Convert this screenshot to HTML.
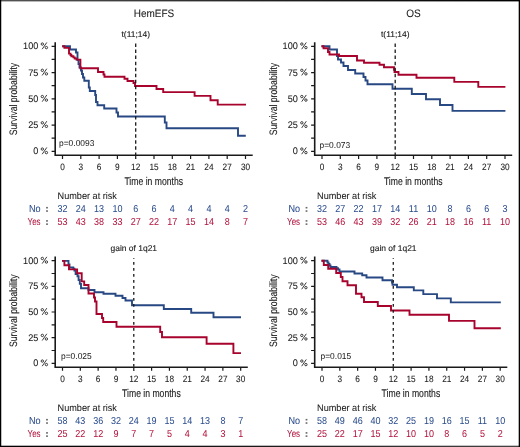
<!DOCTYPE html>
<html><head><meta charset="utf-8"><title>KM curves</title>
<style>
html,body{margin:0;padding:0;background:#fff;}
body{width:520px;height:447px;overflow:hidden;}
svg{display:block;will-change:transform;text-rendering:geometricPrecision;font-family:"Liberation Sans",sans-serif;}
</style></head>
<body>
<svg width="520" height="447" viewBox="0 0 520 447">
<rect x="0" y="0" width="520" height="447" fill="#fff"/>
<path d="M55.2 42.2 V155.3 H252.7" fill="none" stroke="#1a1a1a" stroke-width="1.6"/>
<path d="M51.6 46.3 H55.2 M51.6 59.42 H55.2 M51.6 72.55 H55.2 M51.6 85.68 H55.2 M51.6 98.8 H55.2 M51.6 111.93 H55.2 M51.6 125.05 H55.2 M51.6 138.18 H55.2 M51.6 151.3 H55.2 M62.5 155.3 V158.9 M80.8 155.3 V158.9 M99.1 155.3 V158.9 M117.4 155.3 V158.9 M135.7 155.3 V158.9 M154 155.3 V158.9 M172.3 155.3 V158.9 M190.6 155.3 V158.9 M208.9 155.3 V158.9 M227.2 155.3 V158.9 M245.5 155.3 V158.9" fill="none" stroke="#1a1a1a" stroke-width="1.2"/>
<text transform="translate(38.3 49.3) scale(0.96 1)" font-size="9.5" fill="#1a1a1a" stroke="#1a1a1a" stroke-width="0.08" text-anchor="end">100</text>
<text transform="translate(38.3 75.55) scale(0.96 1)" font-size="9.5" fill="#1a1a1a" stroke="#1a1a1a" stroke-width="0.08" text-anchor="end">75</text>
<text transform="translate(38.3 101.8) scale(0.96 1)" font-size="9.5" fill="#1a1a1a" stroke="#1a1a1a" stroke-width="0.08" text-anchor="end">50</text>
<text transform="translate(38.3 128.05) scale(0.96 1)" font-size="9.5" fill="#1a1a1a" stroke="#1a1a1a" stroke-width="0.08" text-anchor="end">25</text>
<text transform="translate(38.3 154.3) scale(0.96 1)" font-size="9.5" fill="#1a1a1a" stroke="#1a1a1a" stroke-width="0.08" text-anchor="end">0</text>
<path d="M41.13 44.06 a1.2 1.2 0 1 0 2.4 0 a1.2 1.2 0 1 0 -2.4 0 M45.2 47.6 a1.2 1.2 0 1 0 2.4 0 a1.2 1.2 0 1 0 -2.4 0 M46.8 42.45 L42.2 49.18 M41.13 70.31 a1.2 1.2 0 1 0 2.4 0 a1.2 1.2 0 1 0 -2.4 0 M45.2 73.85 a1.2 1.2 0 1 0 2.4 0 a1.2 1.2 0 1 0 -2.4 0 M46.8 68.7 L42.2 75.43 M41.13 96.56 a1.2 1.2 0 1 0 2.4 0 a1.2 1.2 0 1 0 -2.4 0 M45.2 100.1 a1.2 1.2 0 1 0 2.4 0 a1.2 1.2 0 1 0 -2.4 0 M46.8 94.95 L42.2 101.68 M41.13 122.81 a1.2 1.2 0 1 0 2.4 0 a1.2 1.2 0 1 0 -2.4 0 M45.2 126.35 a1.2 1.2 0 1 0 2.4 0 a1.2 1.2 0 1 0 -2.4 0 M46.8 121.2 L42.2 127.93 M41.13 149.06 a1.2 1.2 0 1 0 2.4 0 a1.2 1.2 0 1 0 -2.4 0 M45.2 152.6 a1.2 1.2 0 1 0 2.4 0 a1.2 1.2 0 1 0 -2.4 0 M46.8 147.45 L42.2 154.18" fill="none" stroke="#1a1a1a" stroke-width="0.85"/>
<text transform="translate(17.2 99.05) rotate(-90)" font-size="10.8" fill="#1a1a1a" stroke="#1a1a1a" stroke-width="0.1" text-anchor="middle" textLength="72.5" lengthAdjust="spacingAndGlyphs">Survival probability</text>
<text transform="translate(62.5 169.8) scale(0.9 1)" font-size="9.2" fill="#1a1a1a" stroke="#1a1a1a" stroke-width="0.08" text-anchor="middle">0</text>
<text transform="translate(80.8 169.8) scale(0.9 1)" font-size="9.2" fill="#1a1a1a" stroke="#1a1a1a" stroke-width="0.08" text-anchor="middle">3</text>
<text transform="translate(99.1 169.8) scale(0.9 1)" font-size="9.2" fill="#1a1a1a" stroke="#1a1a1a" stroke-width="0.08" text-anchor="middle">6</text>
<text transform="translate(117.4 169.8) scale(0.9 1)" font-size="9.2" fill="#1a1a1a" stroke="#1a1a1a" stroke-width="0.08" text-anchor="middle">9</text>
<text transform="translate(135.7 169.8) scale(0.9 1)" font-size="9.2" fill="#1a1a1a" stroke="#1a1a1a" stroke-width="0.08" text-anchor="middle">12</text>
<text transform="translate(154 169.8) scale(0.9 1)" font-size="9.2" fill="#1a1a1a" stroke="#1a1a1a" stroke-width="0.08" text-anchor="middle">15</text>
<text transform="translate(172.3 169.8) scale(0.9 1)" font-size="9.2" fill="#1a1a1a" stroke="#1a1a1a" stroke-width="0.08" text-anchor="middle">18</text>
<text transform="translate(190.6 169.8) scale(0.9 1)" font-size="9.2" fill="#1a1a1a" stroke="#1a1a1a" stroke-width="0.08" text-anchor="middle">21</text>
<text transform="translate(208.9 169.8) scale(0.9 1)" font-size="9.2" fill="#1a1a1a" stroke="#1a1a1a" stroke-width="0.08" text-anchor="middle">24</text>
<text transform="translate(227.2 169.8) scale(0.9 1)" font-size="9.2" fill="#1a1a1a" stroke="#1a1a1a" stroke-width="0.08" text-anchor="middle">27</text>
<text transform="translate(245.5 169.8) scale(0.9 1)" font-size="9.2" fill="#1a1a1a" stroke="#1a1a1a" stroke-width="0.08" text-anchor="middle">30</text>
<text transform="translate(153.7 184.9)" font-size="11.2" fill="#1a1a1a" stroke="#1a1a1a" stroke-width="0.12" text-anchor="middle" textLength="58.6" lengthAdjust="spacingAndGlyphs">Time in months</text>
<text transform="translate(154 16.5)" font-size="10.8" fill="#1a1a1a" stroke="#1a1a1a" stroke-width="0.08" text-anchor="middle" textLength="40.4" lengthAdjust="spacingAndGlyphs">HemEFS</text>
<text transform="translate(135.7 37)" font-size="8.4" fill="#1a1a1a" stroke="#1a1a1a" stroke-width="0.12" text-anchor="middle" textLength="28.5" lengthAdjust="spacingAndGlyphs">t(11;14)</text>
<text transform="translate(59 145.5) scale(0.98 1)" font-size="8.6" fill="#1a1a1a" stroke="#1a1a1a" stroke-width="0.02">p=0.0093</text>
<path d="M62.2 46.3 H70 V49.5 H76 V52.5 H77.5 V60 H78.5 V64 H79.5 V67.5 H81 V70.5 H82 V74 H83 V77.5 H84.3 V80.8 H88.8 V87.5 H89.8 V91 H95.2 V95 H96 V102 H97.5 V105.2 H104.2 V108.5 H116.5 V112.5 H118 V116.5 H164.8 V122.5 H166.5 V128.2 H238 V135.8 H245.8" fill="none" stroke="#284883" stroke-width="1.9"/>
<path d="M62.2 46.3 H64.4 V47.9 H69 V53.6 H70.5 V55 H71.4 V56.2 H73.4 V57.4 H74.7 V58.5 H76.5 V59.6 H80.4 V68.2 H98 V72 H103.5 V74.5 H104.5 V76.8 H124.5 V78.8 H127.5 V81 H133.5 V83 H135 V86 H156.5 V89 H163.2 V92.1 H194.6 V95.9 H210.5 V100.2 H217.7 V104.6 H246" fill="none" stroke="#a8032c" stroke-width="1.9"/>
<path d="M135.7 43.5 V158.7" fill="none" stroke="#1a1a1a" stroke-width="1.3" stroke-dasharray="3.5 2.55"/>
<text transform="translate(57.6 198.5)" font-size="9.6" fill="#1a1a1a" stroke="#1a1a1a" stroke-width="0.05" textLength="59.3" lengthAdjust="spacingAndGlyphs">Number at risk</text>
<text transform="translate(40.6 211.7)" font-size="10.2" fill="#2a4c8c" stroke="#2a4c8c" stroke-width="0.05" text-anchor="end" textLength="11.6" lengthAdjust="spacingAndGlyphs">No</text>
<text transform="translate(40.6 224.7)" font-size="10.2" fill="#b2123d" stroke="#b2123d" stroke-width="0.05" text-anchor="end" textLength="13" lengthAdjust="spacingAndGlyphs">Yes</text>
<rect x="46.1" y="206.9" width="1.8" height="1.6" fill="#6a6a6a"/>
<rect x="46.1" y="210.25" width="1.8" height="1.6" fill="#6a6a6a"/>
<rect x="46.1" y="220.1" width="1.8" height="1.6" fill="#6a6a6a"/>
<rect x="46.1" y="223.35" width="1.8" height="1.6" fill="#6a6a6a"/>
<text transform="translate(62.5 211.8) scale(0.9 1)" font-size="10" fill="#2a4c8c" stroke="#2a4c8c" stroke-width="0.02" text-anchor="middle">32</text>
<text transform="translate(62.5 224.8) scale(0.9 1)" font-size="10" fill="#b2123d" stroke="#b2123d" stroke-width="0.02" text-anchor="middle">53</text>
<text transform="translate(80.8 211.8) scale(0.9 1)" font-size="10" fill="#2a4c8c" stroke="#2a4c8c" stroke-width="0.02" text-anchor="middle">24</text>
<text transform="translate(80.8 224.8) scale(0.9 1)" font-size="10" fill="#b2123d" stroke="#b2123d" stroke-width="0.02" text-anchor="middle">43</text>
<text transform="translate(99.1 211.8) scale(0.9 1)" font-size="10" fill="#2a4c8c" stroke="#2a4c8c" stroke-width="0.02" text-anchor="middle">13</text>
<text transform="translate(99.1 224.8) scale(0.9 1)" font-size="10" fill="#b2123d" stroke="#b2123d" stroke-width="0.02" text-anchor="middle">38</text>
<text transform="translate(117.4 211.8) scale(0.9 1)" font-size="10" fill="#2a4c8c" stroke="#2a4c8c" stroke-width="0.02" text-anchor="middle">10</text>
<text transform="translate(117.4 224.8) scale(0.9 1)" font-size="10" fill="#b2123d" stroke="#b2123d" stroke-width="0.02" text-anchor="middle">33</text>
<text transform="translate(135.7 211.8) scale(0.9 1)" font-size="10" fill="#2a4c8c" stroke="#2a4c8c" stroke-width="0.02" text-anchor="middle">6</text>
<text transform="translate(135.7 224.8) scale(0.9 1)" font-size="10" fill="#b2123d" stroke="#b2123d" stroke-width="0.02" text-anchor="middle">27</text>
<text transform="translate(154 211.8) scale(0.9 1)" font-size="10" fill="#2a4c8c" stroke="#2a4c8c" stroke-width="0.02" text-anchor="middle">6</text>
<text transform="translate(154 224.8) scale(0.9 1)" font-size="10" fill="#b2123d" stroke="#b2123d" stroke-width="0.02" text-anchor="middle">22</text>
<text transform="translate(172.3 211.8) scale(0.9 1)" font-size="10" fill="#2a4c8c" stroke="#2a4c8c" stroke-width="0.02" text-anchor="middle">4</text>
<text transform="translate(172.3 224.8) scale(0.9 1)" font-size="10" fill="#b2123d" stroke="#b2123d" stroke-width="0.02" text-anchor="middle">17</text>
<text transform="translate(190.6 211.8) scale(0.9 1)" font-size="10" fill="#2a4c8c" stroke="#2a4c8c" stroke-width="0.02" text-anchor="middle">4</text>
<text transform="translate(190.6 224.8) scale(0.9 1)" font-size="10" fill="#b2123d" stroke="#b2123d" stroke-width="0.02" text-anchor="middle">15</text>
<text transform="translate(208.9 211.8) scale(0.9 1)" font-size="10" fill="#2a4c8c" stroke="#2a4c8c" stroke-width="0.02" text-anchor="middle">4</text>
<text transform="translate(208.9 224.8) scale(0.9 1)" font-size="10" fill="#b2123d" stroke="#b2123d" stroke-width="0.02" text-anchor="middle">14</text>
<text transform="translate(227.2 211.8) scale(0.9 1)" font-size="10" fill="#2a4c8c" stroke="#2a4c8c" stroke-width="0.02" text-anchor="middle">4</text>
<text transform="translate(227.2 224.8) scale(0.9 1)" font-size="10" fill="#b2123d" stroke="#b2123d" stroke-width="0.02" text-anchor="middle">8</text>
<text transform="translate(245.5 211.8) scale(0.9 1)" font-size="10" fill="#2a4c8c" stroke="#2a4c8c" stroke-width="0.02" text-anchor="middle">2</text>
<text transform="translate(245.5 224.8) scale(0.9 1)" font-size="10" fill="#b2123d" stroke="#b2123d" stroke-width="0.02" text-anchor="middle">7</text>
<path d="M314.7 42.2 V155.3 H512.2" fill="none" stroke="#1a1a1a" stroke-width="1.6"/>
<path d="M311.1 46.3 H314.7 M311.1 59.42 H314.7 M311.1 72.55 H314.7 M311.1 85.68 H314.7 M311.1 98.8 H314.7 M311.1 111.93 H314.7 M311.1 125.05 H314.7 M311.1 138.18 H314.7 M311.1 151.3 H314.7 M322 155.3 V158.9 M340.3 155.3 V158.9 M358.6 155.3 V158.9 M376.9 155.3 V158.9 M395.2 155.3 V158.9 M413.5 155.3 V158.9 M431.8 155.3 V158.9 M450.1 155.3 V158.9 M468.4 155.3 V158.9 M486.7 155.3 V158.9 M505 155.3 V158.9" fill="none" stroke="#1a1a1a" stroke-width="1.2"/>
<text transform="translate(297.8 49.3) scale(0.96 1)" font-size="9.5" fill="#1a1a1a" stroke="#1a1a1a" stroke-width="0.08" text-anchor="end">100</text>
<text transform="translate(297.8 75.55) scale(0.96 1)" font-size="9.5" fill="#1a1a1a" stroke="#1a1a1a" stroke-width="0.08" text-anchor="end">75</text>
<text transform="translate(297.8 101.8) scale(0.96 1)" font-size="9.5" fill="#1a1a1a" stroke="#1a1a1a" stroke-width="0.08" text-anchor="end">50</text>
<text transform="translate(297.8 128.05) scale(0.96 1)" font-size="9.5" fill="#1a1a1a" stroke="#1a1a1a" stroke-width="0.08" text-anchor="end">25</text>
<text transform="translate(297.8 154.3) scale(0.96 1)" font-size="9.5" fill="#1a1a1a" stroke="#1a1a1a" stroke-width="0.08" text-anchor="end">0</text>
<path d="M300.63 44.06 a1.2 1.2 0 1 0 2.4 0 a1.2 1.2 0 1 0 -2.4 0 M304.7 47.6 a1.2 1.2 0 1 0 2.4 0 a1.2 1.2 0 1 0 -2.4 0 M306.3 42.45 L301.7 49.18 M300.63 70.31 a1.2 1.2 0 1 0 2.4 0 a1.2 1.2 0 1 0 -2.4 0 M304.7 73.85 a1.2 1.2 0 1 0 2.4 0 a1.2 1.2 0 1 0 -2.4 0 M306.3 68.7 L301.7 75.43 M300.63 96.56 a1.2 1.2 0 1 0 2.4 0 a1.2 1.2 0 1 0 -2.4 0 M304.7 100.1 a1.2 1.2 0 1 0 2.4 0 a1.2 1.2 0 1 0 -2.4 0 M306.3 94.95 L301.7 101.68 M300.63 122.81 a1.2 1.2 0 1 0 2.4 0 a1.2 1.2 0 1 0 -2.4 0 M304.7 126.35 a1.2 1.2 0 1 0 2.4 0 a1.2 1.2 0 1 0 -2.4 0 M306.3 121.2 L301.7 127.93 M300.63 149.06 a1.2 1.2 0 1 0 2.4 0 a1.2 1.2 0 1 0 -2.4 0 M304.7 152.6 a1.2 1.2 0 1 0 2.4 0 a1.2 1.2 0 1 0 -2.4 0 M306.3 147.45 L301.7 154.18" fill="none" stroke="#1a1a1a" stroke-width="0.85"/>
<text transform="translate(276.7 99.05) rotate(-90)" font-size="10.8" fill="#1a1a1a" stroke="#1a1a1a" stroke-width="0.1" text-anchor="middle" textLength="72.5" lengthAdjust="spacingAndGlyphs">Survival probability</text>
<text transform="translate(322 169.8) scale(0.9 1)" font-size="9.2" fill="#1a1a1a" stroke="#1a1a1a" stroke-width="0.08" text-anchor="middle">0</text>
<text transform="translate(340.3 169.8) scale(0.9 1)" font-size="9.2" fill="#1a1a1a" stroke="#1a1a1a" stroke-width="0.08" text-anchor="middle">3</text>
<text transform="translate(358.6 169.8) scale(0.9 1)" font-size="9.2" fill="#1a1a1a" stroke="#1a1a1a" stroke-width="0.08" text-anchor="middle">6</text>
<text transform="translate(376.9 169.8) scale(0.9 1)" font-size="9.2" fill="#1a1a1a" stroke="#1a1a1a" stroke-width="0.08" text-anchor="middle">9</text>
<text transform="translate(395.2 169.8) scale(0.9 1)" font-size="9.2" fill="#1a1a1a" stroke="#1a1a1a" stroke-width="0.08" text-anchor="middle">12</text>
<text transform="translate(413.5 169.8) scale(0.9 1)" font-size="9.2" fill="#1a1a1a" stroke="#1a1a1a" stroke-width="0.08" text-anchor="middle">15</text>
<text transform="translate(431.8 169.8) scale(0.9 1)" font-size="9.2" fill="#1a1a1a" stroke="#1a1a1a" stroke-width="0.08" text-anchor="middle">18</text>
<text transform="translate(450.1 169.8) scale(0.9 1)" font-size="9.2" fill="#1a1a1a" stroke="#1a1a1a" stroke-width="0.08" text-anchor="middle">21</text>
<text transform="translate(468.4 169.8) scale(0.9 1)" font-size="9.2" fill="#1a1a1a" stroke="#1a1a1a" stroke-width="0.08" text-anchor="middle">24</text>
<text transform="translate(486.7 169.8) scale(0.9 1)" font-size="9.2" fill="#1a1a1a" stroke="#1a1a1a" stroke-width="0.08" text-anchor="middle">27</text>
<text transform="translate(505 169.8) scale(0.9 1)" font-size="9.2" fill="#1a1a1a" stroke="#1a1a1a" stroke-width="0.08" text-anchor="middle">30</text>
<text transform="translate(413.2 184.9)" font-size="11.2" fill="#1a1a1a" stroke="#1a1a1a" stroke-width="0.12" text-anchor="middle" textLength="58.6" lengthAdjust="spacingAndGlyphs">Time in months</text>
<text transform="translate(413.5 16.5)" font-size="10.8" fill="#1a1a1a" stroke="#1a1a1a" stroke-width="0.08" text-anchor="middle" textLength="14.5" lengthAdjust="spacingAndGlyphs">OS</text>
<text transform="translate(395.2 37)" font-size="8.4" fill="#1a1a1a" stroke="#1a1a1a" stroke-width="0.12" text-anchor="middle" textLength="28.5" lengthAdjust="spacingAndGlyphs">t(11;14)</text>
<text transform="translate(319.5 148.2) scale(0.98 1)" font-size="8.6" fill="#1a1a1a" stroke="#1a1a1a" stroke-width="0.02">p=0.073</text>
<path d="M321.5 46.3 H329.5 V49.5 H337 V56 H338 V59.5 H341 V62.5 H343.5 V66 H348 V70 H355.2 V73.5 H363.5 V77 H365.5 V80.5 H367.5 V84.2 H392.5 V88.8 H411.8 V94 H426 V99.2 H440 V105 H452.5 V110.9 H505.4" fill="none" stroke="#284883" stroke-width="1.9"/>
<path d="M321.5 46.3 H323.5 V48.2 H328 V52 H329.5 V54.5 H339 V56 H357 V60.5 H364 V62.8 H379.5 V64.8 H384 V67.2 H394 V69.8 H394.5 V72 H398.5 V74.8 H416.5 V77.8 H454.3 V81.9 H478.3 V86.9 H505.4" fill="none" stroke="#a8032c" stroke-width="1.9"/>
<path d="M395.2 43.5 V158.7" fill="none" stroke="#1a1a1a" stroke-width="1.3" stroke-dasharray="3.5 2.55"/>
<text transform="translate(317.1 198.5)" font-size="9.6" fill="#1a1a1a" stroke="#1a1a1a" stroke-width="0.05" textLength="59.3" lengthAdjust="spacingAndGlyphs">Number at risk</text>
<text transform="translate(300.1 211.7)" font-size="10.2" fill="#2a4c8c" stroke="#2a4c8c" stroke-width="0.05" text-anchor="end" textLength="11.6" lengthAdjust="spacingAndGlyphs">No</text>
<text transform="translate(300.1 224.7)" font-size="10.2" fill="#b2123d" stroke="#b2123d" stroke-width="0.05" text-anchor="end" textLength="13" lengthAdjust="spacingAndGlyphs">Yes</text>
<rect x="305.6" y="206.9" width="1.8" height="1.6" fill="#6a6a6a"/>
<rect x="305.6" y="210.25" width="1.8" height="1.6" fill="#6a6a6a"/>
<rect x="305.6" y="220.1" width="1.8" height="1.6" fill="#6a6a6a"/>
<rect x="305.6" y="223.35" width="1.8" height="1.6" fill="#6a6a6a"/>
<text transform="translate(322 211.8) scale(0.9 1)" font-size="10" fill="#2a4c8c" stroke="#2a4c8c" stroke-width="0.02" text-anchor="middle">32</text>
<text transform="translate(322 224.8) scale(0.9 1)" font-size="10" fill="#b2123d" stroke="#b2123d" stroke-width="0.02" text-anchor="middle">53</text>
<text transform="translate(340.3 211.8) scale(0.9 1)" font-size="10" fill="#2a4c8c" stroke="#2a4c8c" stroke-width="0.02" text-anchor="middle">27</text>
<text transform="translate(340.3 224.8) scale(0.9 1)" font-size="10" fill="#b2123d" stroke="#b2123d" stroke-width="0.02" text-anchor="middle">46</text>
<text transform="translate(358.6 211.8) scale(0.9 1)" font-size="10" fill="#2a4c8c" stroke="#2a4c8c" stroke-width="0.02" text-anchor="middle">22</text>
<text transform="translate(358.6 224.8) scale(0.9 1)" font-size="10" fill="#b2123d" stroke="#b2123d" stroke-width="0.02" text-anchor="middle">43</text>
<text transform="translate(376.9 211.8) scale(0.9 1)" font-size="10" fill="#2a4c8c" stroke="#2a4c8c" stroke-width="0.02" text-anchor="middle">17</text>
<text transform="translate(376.9 224.8) scale(0.9 1)" font-size="10" fill="#b2123d" stroke="#b2123d" stroke-width="0.02" text-anchor="middle">39</text>
<text transform="translate(395.2 211.8) scale(0.9 1)" font-size="10" fill="#2a4c8c" stroke="#2a4c8c" stroke-width="0.02" text-anchor="middle">14</text>
<text transform="translate(395.2 224.8) scale(0.9 1)" font-size="10" fill="#b2123d" stroke="#b2123d" stroke-width="0.02" text-anchor="middle">32</text>
<text transform="translate(413.5 211.8) scale(0.9 1)" font-size="10" fill="#2a4c8c" stroke="#2a4c8c" stroke-width="0.02" text-anchor="middle">11</text>
<text transform="translate(413.5 224.8) scale(0.9 1)" font-size="10" fill="#b2123d" stroke="#b2123d" stroke-width="0.02" text-anchor="middle">26</text>
<text transform="translate(431.8 211.8) scale(0.9 1)" font-size="10" fill="#2a4c8c" stroke="#2a4c8c" stroke-width="0.02" text-anchor="middle">10</text>
<text transform="translate(431.8 224.8) scale(0.9 1)" font-size="10" fill="#b2123d" stroke="#b2123d" stroke-width="0.02" text-anchor="middle">21</text>
<text transform="translate(450.1 211.8) scale(0.9 1)" font-size="10" fill="#2a4c8c" stroke="#2a4c8c" stroke-width="0.02" text-anchor="middle">8</text>
<text transform="translate(450.1 224.8) scale(0.9 1)" font-size="10" fill="#b2123d" stroke="#b2123d" stroke-width="0.02" text-anchor="middle">18</text>
<text transform="translate(468.4 211.8) scale(0.9 1)" font-size="10" fill="#2a4c8c" stroke="#2a4c8c" stroke-width="0.02" text-anchor="middle">6</text>
<text transform="translate(468.4 224.8) scale(0.9 1)" font-size="10" fill="#b2123d" stroke="#b2123d" stroke-width="0.02" text-anchor="middle">16</text>
<text transform="translate(486.7 211.8) scale(0.9 1)" font-size="10" fill="#2a4c8c" stroke="#2a4c8c" stroke-width="0.02" text-anchor="middle">6</text>
<text transform="translate(486.7 224.8) scale(0.9 1)" font-size="10" fill="#b2123d" stroke="#b2123d" stroke-width="0.02" text-anchor="middle">11</text>
<text transform="translate(505 211.8) scale(0.9 1)" font-size="10" fill="#2a4c8c" stroke="#2a4c8c" stroke-width="0.02" text-anchor="middle">3</text>
<text transform="translate(505 224.8) scale(0.9 1)" font-size="10" fill="#b2123d" stroke="#b2123d" stroke-width="0.02" text-anchor="middle">10</text>
<path d="M55.2 256.5 V367.2 H247.8" fill="none" stroke="#1a1a1a" stroke-width="1.6"/>
<path d="M51.6 260.7 H55.2 M51.6 273.52 H55.2 M51.6 286.35 H55.2 M51.6 299.18 H55.2 M51.6 312 H55.2 M51.6 324.82 H55.2 M51.6 337.65 H55.2 M51.6 350.48 H55.2 M51.6 363.3 H55.2 M62.5 367.2 V370.8 M80.32 367.2 V370.8 M98.14 367.2 V370.8 M115.96 367.2 V370.8 M133.78 367.2 V370.8 M151.6 367.2 V370.8 M169.42 367.2 V370.8 M187.24 367.2 V370.8 M205.06 367.2 V370.8 M222.88 367.2 V370.8 M240.7 367.2 V370.8" fill="none" stroke="#1a1a1a" stroke-width="1.2"/>
<text transform="translate(38.3 263.7) scale(0.96 1)" font-size="9.5" fill="#1a1a1a" stroke="#1a1a1a" stroke-width="0.08" text-anchor="end">100</text>
<text transform="translate(38.3 289.35) scale(0.96 1)" font-size="9.5" fill="#1a1a1a" stroke="#1a1a1a" stroke-width="0.08" text-anchor="end">75</text>
<text transform="translate(38.3 315) scale(0.96 1)" font-size="9.5" fill="#1a1a1a" stroke="#1a1a1a" stroke-width="0.08" text-anchor="end">50</text>
<text transform="translate(38.3 340.65) scale(0.96 1)" font-size="9.5" fill="#1a1a1a" stroke="#1a1a1a" stroke-width="0.08" text-anchor="end">25</text>
<text transform="translate(38.3 366.3) scale(0.96 1)" font-size="9.5" fill="#1a1a1a" stroke="#1a1a1a" stroke-width="0.08" text-anchor="end">0</text>
<path d="M41.13 258.46 a1.2 1.2 0 1 0 2.4 0 a1.2 1.2 0 1 0 -2.4 0 M45.2 262 a1.2 1.2 0 1 0 2.4 0 a1.2 1.2 0 1 0 -2.4 0 M46.8 256.85 L42.2 263.58 M41.13 284.11 a1.2 1.2 0 1 0 2.4 0 a1.2 1.2 0 1 0 -2.4 0 M45.2 287.65 a1.2 1.2 0 1 0 2.4 0 a1.2 1.2 0 1 0 -2.4 0 M46.8 282.5 L42.2 289.23 M41.13 309.76 a1.2 1.2 0 1 0 2.4 0 a1.2 1.2 0 1 0 -2.4 0 M45.2 313.3 a1.2 1.2 0 1 0 2.4 0 a1.2 1.2 0 1 0 -2.4 0 M46.8 308.15 L42.2 314.88 M41.13 335.41 a1.2 1.2 0 1 0 2.4 0 a1.2 1.2 0 1 0 -2.4 0 M45.2 338.95 a1.2 1.2 0 1 0 2.4 0 a1.2 1.2 0 1 0 -2.4 0 M46.8 333.8 L42.2 340.53 M41.13 361.06 a1.2 1.2 0 1 0 2.4 0 a1.2 1.2 0 1 0 -2.4 0 M45.2 364.6 a1.2 1.2 0 1 0 2.4 0 a1.2 1.2 0 1 0 -2.4 0 M46.8 359.45 L42.2 366.18" fill="none" stroke="#1a1a1a" stroke-width="0.85"/>
<text transform="translate(17.2 310.7) rotate(-90)" font-size="10.8" fill="#1a1a1a" stroke="#1a1a1a" stroke-width="0.1" text-anchor="middle" textLength="72.5" lengthAdjust="spacingAndGlyphs">Survival probability</text>
<text transform="translate(62.5 381.7) scale(0.9 1)" font-size="9.2" fill="#1a1a1a" stroke="#1a1a1a" stroke-width="0.08" text-anchor="middle">0</text>
<text transform="translate(80.32 381.7) scale(0.9 1)" font-size="9.2" fill="#1a1a1a" stroke="#1a1a1a" stroke-width="0.08" text-anchor="middle">3</text>
<text transform="translate(98.14 381.7) scale(0.9 1)" font-size="9.2" fill="#1a1a1a" stroke="#1a1a1a" stroke-width="0.08" text-anchor="middle">6</text>
<text transform="translate(115.96 381.7) scale(0.9 1)" font-size="9.2" fill="#1a1a1a" stroke="#1a1a1a" stroke-width="0.08" text-anchor="middle">9</text>
<text transform="translate(133.78 381.7) scale(0.9 1)" font-size="9.2" fill="#1a1a1a" stroke="#1a1a1a" stroke-width="0.08" text-anchor="middle">12</text>
<text transform="translate(151.6 381.7) scale(0.9 1)" font-size="9.2" fill="#1a1a1a" stroke="#1a1a1a" stroke-width="0.08" text-anchor="middle">15</text>
<text transform="translate(169.42 381.7) scale(0.9 1)" font-size="9.2" fill="#1a1a1a" stroke="#1a1a1a" stroke-width="0.08" text-anchor="middle">18</text>
<text transform="translate(187.24 381.7) scale(0.9 1)" font-size="9.2" fill="#1a1a1a" stroke="#1a1a1a" stroke-width="0.08" text-anchor="middle">21</text>
<text transform="translate(205.06 381.7) scale(0.9 1)" font-size="9.2" fill="#1a1a1a" stroke="#1a1a1a" stroke-width="0.08" text-anchor="middle">24</text>
<text transform="translate(222.88 381.7) scale(0.9 1)" font-size="9.2" fill="#1a1a1a" stroke="#1a1a1a" stroke-width="0.08" text-anchor="middle">27</text>
<text transform="translate(240.7 381.7) scale(0.9 1)" font-size="9.2" fill="#1a1a1a" stroke="#1a1a1a" stroke-width="0.08" text-anchor="middle">30</text>
<text transform="translate(151.4 396.9)" font-size="11.2" fill="#1a1a1a" stroke="#1a1a1a" stroke-width="0.12" text-anchor="middle" textLength="58.6" lengthAdjust="spacingAndGlyphs">Time in months</text>
<text transform="translate(133.78 250.8)" font-size="8.4" fill="#1a1a1a" stroke="#1a1a1a" stroke-width="0.12" text-anchor="middle" textLength="46.6" lengthAdjust="spacingAndGlyphs">gain of 1q21</text>
<text transform="translate(61 359.2) scale(0.98 1)" font-size="8.6" fill="#1a1a1a" stroke="#1a1a1a" stroke-width="0.02">p=0.025</text>
<path d="M62.1 260.9 H68.5 V264.5 H69.5 V267.5 H73.3 V268.6 H74.4 V270.5 H75.6 V274 H77.5 V276.3 H78.6 V280 H79.8 V283.9 H81 V288.3 H88.5 V290 H94.5 V292.2 H103.5 V293.8 H115.5 V295.8 H122.5 V298 H125.5 V300.5 H132 V305.2 H163.8 V309 H191.2 V312.8 H213.5 V317.3 H241" fill="none" stroke="#284883" stroke-width="1.9"/>
<path d="M62.1 260.9 H64.4 V265.2 H69 V269.4 H77.1 V273.2 H81.7 V281.4 H84.2 V285 H88.5 V293.5 H94 V297.5 H95 V301.5 H96.5 V314 H102 V318 H103.2 V322 H116.5 V326.8 H160.2 V332 H162 V337.3 H206.6 V343.7 H233.4 V353.1 H241" fill="none" stroke="#a8032c" stroke-width="1.9"/>
<path d="M133.78 258 V370.6" fill="none" stroke="#1a1a1a" stroke-width="1.3" stroke-dasharray="2.7 3.3" stroke-dashoffset="2"/>
<text transform="translate(57.6 410.5)" font-size="9.6" fill="#1a1a1a" stroke="#1a1a1a" stroke-width="0.05" textLength="59.3" lengthAdjust="spacingAndGlyphs">Number at risk</text>
<text transform="translate(40.6 423.7)" font-size="10.2" fill="#2a4c8c" stroke="#2a4c8c" stroke-width="0.05" text-anchor="end" textLength="11.6" lengthAdjust="spacingAndGlyphs">No</text>
<text transform="translate(40.6 436.7)" font-size="10.2" fill="#b2123d" stroke="#b2123d" stroke-width="0.05" text-anchor="end" textLength="13" lengthAdjust="spacingAndGlyphs">Yes</text>
<rect x="46.1" y="418.9" width="1.8" height="1.6" fill="#6a6a6a"/>
<rect x="46.1" y="422.25" width="1.8" height="1.6" fill="#6a6a6a"/>
<rect x="46.1" y="432.1" width="1.8" height="1.6" fill="#6a6a6a"/>
<rect x="46.1" y="435.35" width="1.8" height="1.6" fill="#6a6a6a"/>
<text transform="translate(62.5 423.8) scale(0.9 1)" font-size="10" fill="#2a4c8c" stroke="#2a4c8c" stroke-width="0.02" text-anchor="middle">58</text>
<text transform="translate(62.5 436.8) scale(0.9 1)" font-size="10" fill="#b2123d" stroke="#b2123d" stroke-width="0.02" text-anchor="middle">25</text>
<text transform="translate(80.32 423.8) scale(0.9 1)" font-size="10" fill="#2a4c8c" stroke="#2a4c8c" stroke-width="0.02" text-anchor="middle">43</text>
<text transform="translate(80.32 436.8) scale(0.9 1)" font-size="10" fill="#b2123d" stroke="#b2123d" stroke-width="0.02" text-anchor="middle">22</text>
<text transform="translate(98.14 423.8) scale(0.9 1)" font-size="10" fill="#2a4c8c" stroke="#2a4c8c" stroke-width="0.02" text-anchor="middle">36</text>
<text transform="translate(98.14 436.8) scale(0.9 1)" font-size="10" fill="#b2123d" stroke="#b2123d" stroke-width="0.02" text-anchor="middle">12</text>
<text transform="translate(115.96 423.8) scale(0.9 1)" font-size="10" fill="#2a4c8c" stroke="#2a4c8c" stroke-width="0.02" text-anchor="middle">32</text>
<text transform="translate(115.96 436.8) scale(0.9 1)" font-size="10" fill="#b2123d" stroke="#b2123d" stroke-width="0.02" text-anchor="middle">9</text>
<text transform="translate(133.78 423.8) scale(0.9 1)" font-size="10" fill="#2a4c8c" stroke="#2a4c8c" stroke-width="0.02" text-anchor="middle">24</text>
<text transform="translate(133.78 436.8) scale(0.9 1)" font-size="10" fill="#b2123d" stroke="#b2123d" stroke-width="0.02" text-anchor="middle">7</text>
<text transform="translate(151.6 423.8) scale(0.9 1)" font-size="10" fill="#2a4c8c" stroke="#2a4c8c" stroke-width="0.02" text-anchor="middle">19</text>
<text transform="translate(151.6 436.8) scale(0.9 1)" font-size="10" fill="#b2123d" stroke="#b2123d" stroke-width="0.02" text-anchor="middle">7</text>
<text transform="translate(169.42 423.8) scale(0.9 1)" font-size="10" fill="#2a4c8c" stroke="#2a4c8c" stroke-width="0.02" text-anchor="middle">15</text>
<text transform="translate(169.42 436.8) scale(0.9 1)" font-size="10" fill="#b2123d" stroke="#b2123d" stroke-width="0.02" text-anchor="middle">5</text>
<text transform="translate(187.24 423.8) scale(0.9 1)" font-size="10" fill="#2a4c8c" stroke="#2a4c8c" stroke-width="0.02" text-anchor="middle">14</text>
<text transform="translate(187.24 436.8) scale(0.9 1)" font-size="10" fill="#b2123d" stroke="#b2123d" stroke-width="0.02" text-anchor="middle">4</text>
<text transform="translate(205.06 423.8) scale(0.9 1)" font-size="10" fill="#2a4c8c" stroke="#2a4c8c" stroke-width="0.02" text-anchor="middle">13</text>
<text transform="translate(205.06 436.8) scale(0.9 1)" font-size="10" fill="#b2123d" stroke="#b2123d" stroke-width="0.02" text-anchor="middle">4</text>
<text transform="translate(222.88 423.8) scale(0.9 1)" font-size="10" fill="#2a4c8c" stroke="#2a4c8c" stroke-width="0.02" text-anchor="middle">8</text>
<text transform="translate(222.88 436.8) scale(0.9 1)" font-size="10" fill="#b2123d" stroke="#b2123d" stroke-width="0.02" text-anchor="middle">3</text>
<text transform="translate(240.7 423.8) scale(0.9 1)" font-size="10" fill="#2a4c8c" stroke="#2a4c8c" stroke-width="0.02" text-anchor="middle">7</text>
<text transform="translate(240.7 436.8) scale(0.9 1)" font-size="10" fill="#b2123d" stroke="#b2123d" stroke-width="0.02" text-anchor="middle">1</text>
<path d="M314.7 256.5 V367.2 H507.3" fill="none" stroke="#1a1a1a" stroke-width="1.6"/>
<path d="M311.1 260.7 H314.7 M311.1 273.52 H314.7 M311.1 286.35 H314.7 M311.1 299.18 H314.7 M311.1 312 H314.7 M311.1 324.82 H314.7 M311.1 337.65 H314.7 M311.1 350.48 H314.7 M311.1 363.3 H314.7 M322 367.2 V370.8 M339.82 367.2 V370.8 M357.64 367.2 V370.8 M375.46 367.2 V370.8 M393.28 367.2 V370.8 M411.1 367.2 V370.8 M428.92 367.2 V370.8 M446.74 367.2 V370.8 M464.56 367.2 V370.8 M482.38 367.2 V370.8 M500.2 367.2 V370.8" fill="none" stroke="#1a1a1a" stroke-width="1.2"/>
<text transform="translate(297.8 263.7) scale(0.96 1)" font-size="9.5" fill="#1a1a1a" stroke="#1a1a1a" stroke-width="0.08" text-anchor="end">100</text>
<text transform="translate(297.8 289.35) scale(0.96 1)" font-size="9.5" fill="#1a1a1a" stroke="#1a1a1a" stroke-width="0.08" text-anchor="end">75</text>
<text transform="translate(297.8 315) scale(0.96 1)" font-size="9.5" fill="#1a1a1a" stroke="#1a1a1a" stroke-width="0.08" text-anchor="end">50</text>
<text transform="translate(297.8 340.65) scale(0.96 1)" font-size="9.5" fill="#1a1a1a" stroke="#1a1a1a" stroke-width="0.08" text-anchor="end">25</text>
<text transform="translate(297.8 366.3) scale(0.96 1)" font-size="9.5" fill="#1a1a1a" stroke="#1a1a1a" stroke-width="0.08" text-anchor="end">0</text>
<path d="M300.63 258.46 a1.2 1.2 0 1 0 2.4 0 a1.2 1.2 0 1 0 -2.4 0 M304.7 262 a1.2 1.2 0 1 0 2.4 0 a1.2 1.2 0 1 0 -2.4 0 M306.3 256.85 L301.7 263.58 M300.63 284.11 a1.2 1.2 0 1 0 2.4 0 a1.2 1.2 0 1 0 -2.4 0 M304.7 287.65 a1.2 1.2 0 1 0 2.4 0 a1.2 1.2 0 1 0 -2.4 0 M306.3 282.5 L301.7 289.23 M300.63 309.76 a1.2 1.2 0 1 0 2.4 0 a1.2 1.2 0 1 0 -2.4 0 M304.7 313.3 a1.2 1.2 0 1 0 2.4 0 a1.2 1.2 0 1 0 -2.4 0 M306.3 308.15 L301.7 314.88 M300.63 335.41 a1.2 1.2 0 1 0 2.4 0 a1.2 1.2 0 1 0 -2.4 0 M304.7 338.95 a1.2 1.2 0 1 0 2.4 0 a1.2 1.2 0 1 0 -2.4 0 M306.3 333.8 L301.7 340.53 M300.63 361.06 a1.2 1.2 0 1 0 2.4 0 a1.2 1.2 0 1 0 -2.4 0 M304.7 364.6 a1.2 1.2 0 1 0 2.4 0 a1.2 1.2 0 1 0 -2.4 0 M306.3 359.45 L301.7 366.18" fill="none" stroke="#1a1a1a" stroke-width="0.85"/>
<text transform="translate(276.7 310.7) rotate(-90)" font-size="10.8" fill="#1a1a1a" stroke="#1a1a1a" stroke-width="0.1" text-anchor="middle" textLength="72.5" lengthAdjust="spacingAndGlyphs">Survival probability</text>
<text transform="translate(322 381.7) scale(0.9 1)" font-size="9.2" fill="#1a1a1a" stroke="#1a1a1a" stroke-width="0.08" text-anchor="middle">0</text>
<text transform="translate(339.82 381.7) scale(0.9 1)" font-size="9.2" fill="#1a1a1a" stroke="#1a1a1a" stroke-width="0.08" text-anchor="middle">3</text>
<text transform="translate(357.64 381.7) scale(0.9 1)" font-size="9.2" fill="#1a1a1a" stroke="#1a1a1a" stroke-width="0.08" text-anchor="middle">6</text>
<text transform="translate(375.46 381.7) scale(0.9 1)" font-size="9.2" fill="#1a1a1a" stroke="#1a1a1a" stroke-width="0.08" text-anchor="middle">9</text>
<text transform="translate(393.28 381.7) scale(0.9 1)" font-size="9.2" fill="#1a1a1a" stroke="#1a1a1a" stroke-width="0.08" text-anchor="middle">12</text>
<text transform="translate(411.1 381.7) scale(0.9 1)" font-size="9.2" fill="#1a1a1a" stroke="#1a1a1a" stroke-width="0.08" text-anchor="middle">15</text>
<text transform="translate(428.92 381.7) scale(0.9 1)" font-size="9.2" fill="#1a1a1a" stroke="#1a1a1a" stroke-width="0.08" text-anchor="middle">18</text>
<text transform="translate(446.74 381.7) scale(0.9 1)" font-size="9.2" fill="#1a1a1a" stroke="#1a1a1a" stroke-width="0.08" text-anchor="middle">21</text>
<text transform="translate(464.56 381.7) scale(0.9 1)" font-size="9.2" fill="#1a1a1a" stroke="#1a1a1a" stroke-width="0.08" text-anchor="middle">24</text>
<text transform="translate(482.38 381.7) scale(0.9 1)" font-size="9.2" fill="#1a1a1a" stroke="#1a1a1a" stroke-width="0.08" text-anchor="middle">27</text>
<text transform="translate(500.2 381.7) scale(0.9 1)" font-size="9.2" fill="#1a1a1a" stroke="#1a1a1a" stroke-width="0.08" text-anchor="middle">30</text>
<text transform="translate(410.9 396.9)" font-size="11.2" fill="#1a1a1a" stroke="#1a1a1a" stroke-width="0.12" text-anchor="middle" textLength="58.6" lengthAdjust="spacingAndGlyphs">Time in months</text>
<text transform="translate(393.28 250.8)" font-size="8.4" fill="#1a1a1a" stroke="#1a1a1a" stroke-width="0.12" text-anchor="middle" textLength="46.6" lengthAdjust="spacingAndGlyphs">gain of 1q21</text>
<text transform="translate(320.5 359.2) scale(0.98 1)" font-size="8.6" fill="#1a1a1a" stroke="#1a1a1a" stroke-width="0.02">p=0.015</text>
<path d="M321.5 260.7 H327.5 V262.5 H328.5 V264 H329.5 V265.5 H330.5 V267 H336.5 V268.2 H338 V269.5 H339.5 V271.5 H354.5 V273.5 H362.2 V275.3 H366.5 V277.5 H382.5 V280.2 H392 V282.5 H392.5 V284.8 H397 V287.2 H413.8 V290.4 H423.3 V294.1 H437 V298.4 H450.8 V302.4 H500.8" fill="none" stroke="#284883" stroke-width="1.9"/>
<path d="M321.5 260.7 H323.8 V265 H328.2 V268.8 H336.2 V273 H340.8 V277 H342.5 V281.2 H347.5 V285.2 H356 V293.8 H361.5 V297.2 H364 V302 H377.8 V306 H391 V310.5 H409.5 V314.8 H449 V320.9 H474.5 V328.2 H500.8" fill="none" stroke="#a8032c" stroke-width="1.9"/>
<path d="M393.28 258 V370.6" fill="none" stroke="#1a1a1a" stroke-width="1.3" stroke-dasharray="2.7 3.3" stroke-dashoffset="2"/>
<text transform="translate(317.1 410.5)" font-size="9.6" fill="#1a1a1a" stroke="#1a1a1a" stroke-width="0.05" textLength="59.3" lengthAdjust="spacingAndGlyphs">Number at risk</text>
<text transform="translate(300.1 423.7)" font-size="10.2" fill="#2a4c8c" stroke="#2a4c8c" stroke-width="0.05" text-anchor="end" textLength="11.6" lengthAdjust="spacingAndGlyphs">No</text>
<text transform="translate(300.1 436.7)" font-size="10.2" fill="#b2123d" stroke="#b2123d" stroke-width="0.05" text-anchor="end" textLength="13" lengthAdjust="spacingAndGlyphs">Yes</text>
<rect x="305.6" y="418.9" width="1.8" height="1.6" fill="#6a6a6a"/>
<rect x="305.6" y="422.25" width="1.8" height="1.6" fill="#6a6a6a"/>
<rect x="305.6" y="432.1" width="1.8" height="1.6" fill="#6a6a6a"/>
<rect x="305.6" y="435.35" width="1.8" height="1.6" fill="#6a6a6a"/>
<text transform="translate(322 423.8) scale(0.9 1)" font-size="10" fill="#2a4c8c" stroke="#2a4c8c" stroke-width="0.02" text-anchor="middle">58</text>
<text transform="translate(322 436.8) scale(0.9 1)" font-size="10" fill="#b2123d" stroke="#b2123d" stroke-width="0.02" text-anchor="middle">25</text>
<text transform="translate(339.82 423.8) scale(0.9 1)" font-size="10" fill="#2a4c8c" stroke="#2a4c8c" stroke-width="0.02" text-anchor="middle">49</text>
<text transform="translate(339.82 436.8) scale(0.9 1)" font-size="10" fill="#b2123d" stroke="#b2123d" stroke-width="0.02" text-anchor="middle">22</text>
<text transform="translate(357.64 423.8) scale(0.9 1)" font-size="10" fill="#2a4c8c" stroke="#2a4c8c" stroke-width="0.02" text-anchor="middle">46</text>
<text transform="translate(357.64 436.8) scale(0.9 1)" font-size="10" fill="#b2123d" stroke="#b2123d" stroke-width="0.02" text-anchor="middle">17</text>
<text transform="translate(375.46 423.8) scale(0.9 1)" font-size="10" fill="#2a4c8c" stroke="#2a4c8c" stroke-width="0.02" text-anchor="middle">40</text>
<text transform="translate(375.46 436.8) scale(0.9 1)" font-size="10" fill="#b2123d" stroke="#b2123d" stroke-width="0.02" text-anchor="middle">15</text>
<text transform="translate(393.28 423.8) scale(0.9 1)" font-size="10" fill="#2a4c8c" stroke="#2a4c8c" stroke-width="0.02" text-anchor="middle">32</text>
<text transform="translate(393.28 436.8) scale(0.9 1)" font-size="10" fill="#b2123d" stroke="#b2123d" stroke-width="0.02" text-anchor="middle">12</text>
<text transform="translate(411.1 423.8) scale(0.9 1)" font-size="10" fill="#2a4c8c" stroke="#2a4c8c" stroke-width="0.02" text-anchor="middle">25</text>
<text transform="translate(411.1 436.8) scale(0.9 1)" font-size="10" fill="#b2123d" stroke="#b2123d" stroke-width="0.02" text-anchor="middle">10</text>
<text transform="translate(428.92 423.8) scale(0.9 1)" font-size="10" fill="#2a4c8c" stroke="#2a4c8c" stroke-width="0.02" text-anchor="middle">19</text>
<text transform="translate(428.92 436.8) scale(0.9 1)" font-size="10" fill="#b2123d" stroke="#b2123d" stroke-width="0.02" text-anchor="middle">10</text>
<text transform="translate(446.74 423.8) scale(0.9 1)" font-size="10" fill="#2a4c8c" stroke="#2a4c8c" stroke-width="0.02" text-anchor="middle">16</text>
<text transform="translate(446.74 436.8) scale(0.9 1)" font-size="10" fill="#b2123d" stroke="#b2123d" stroke-width="0.02" text-anchor="middle">8</text>
<text transform="translate(464.56 423.8) scale(0.9 1)" font-size="10" fill="#2a4c8c" stroke="#2a4c8c" stroke-width="0.02" text-anchor="middle">15</text>
<text transform="translate(464.56 436.8) scale(0.9 1)" font-size="10" fill="#b2123d" stroke="#b2123d" stroke-width="0.02" text-anchor="middle">6</text>
<text transform="translate(482.38 423.8) scale(0.9 1)" font-size="10" fill="#2a4c8c" stroke="#2a4c8c" stroke-width="0.02" text-anchor="middle">11</text>
<text transform="translate(482.38 436.8) scale(0.9 1)" font-size="10" fill="#b2123d" stroke="#b2123d" stroke-width="0.02" text-anchor="middle">5</text>
<text transform="translate(500.2 423.8) scale(0.9 1)" font-size="10" fill="#2a4c8c" stroke="#2a4c8c" stroke-width="0.02" text-anchor="middle">10</text>
<text transform="translate(500.2 436.8) scale(0.9 1)" font-size="10" fill="#b2123d" stroke="#b2123d" stroke-width="0.02" text-anchor="middle">2</text>
<defs>
<linearGradient id="gt" x1="0" y1="0" x2="1" y2="0"><stop offset="0" stop-color="#555"/><stop offset="0.5" stop-color="#222"/><stop offset="1" stop-color="#000"/></linearGradient>
<linearGradient id="gb" x1="0" y1="0" x2="1" y2="0"><stop offset="0" stop-color="#000"/><stop offset="0.5" stop-color="#1a1a1a"/><stop offset="1" stop-color="#444"/></linearGradient>
</defs>
<rect x="0" y="0" width="520" height="1.4" fill="url(#gt)"/>
<rect x="0" y="445.7" width="520" height="1.3" fill="url(#gb)"/>
<rect x="0" y="0" width="1.25" height="447" fill="#000"/>
<rect x="518.7" y="0" width="1.3" height="447" fill="#000"/>
</svg>
</body></html>
